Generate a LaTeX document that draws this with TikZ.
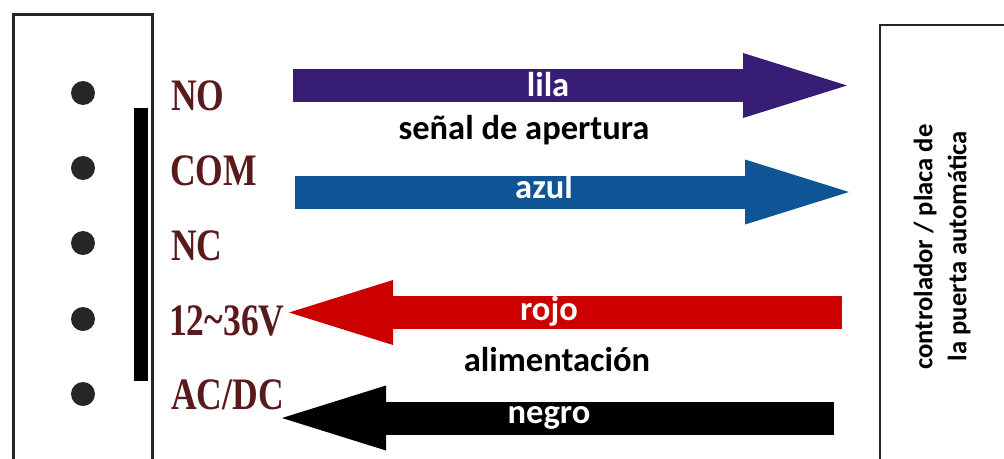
\documentclass[tikz,border=0pt]{standalone}
\usepackage{fontspec}
\setmainfont{Carlito}
\newfontfamily\termfont{Liberation Serif}
\usetikzlibrary{arrows.meta}
\definecolor{lila}{HTML}{371D75}
\definecolor{azul}{HTML}{0F5595}
\definecolor{rojo}{HTML}{CC0000}
\definecolor{term}{HTML}{5A1A1C}
\definecolor{boxline}{HTML}{262626}
\newcommand\termtext[1]{\scalebox{0.79}[1]{#1}}
\tikzset{
  x=1pt,y=-1pt,
  wire/.style={line width=33pt,-{Triangle[length=104pt,width=65pt,line width=0pt,sep=0pt]}},
  pin/.style={circle,fill=boxline,inner sep=0pt,minimum size=24pt},
  term/.style={font=\termfont\bfseries\fontsize{45}{45}\selectfont,text=term,anchor=base west,inner sep=0pt},
  wirelabel/.style={font=\bfseries\fontsize{34.5}{34.5}\selectfont,text=white,inner sep=0pt,anchor=base},
  note/.style={font=\bfseries\fontsize{34.5}{34.5}\selectfont,text=black,inner sep=0pt,anchor=base},
  side/.style={font=\bfseries\fontsize{26.6}{26.6}\selectfont,text=black,inner sep=0pt,rotate=90}
}
\begin{document}
\begin{tikzpicture}
\useasboundingbox (0,0) rectangle (1004,458);
\clip (0,0) rectangle (1004,458);
% left device
\draw[boxline,line width=3pt] (13.5,470) -- (13.5,14.5) -- (152.5,14.5) -- (152.5,470);
\node[pin] (p1) at (83,93) {};
\node[pin] (p2) at (83,168) {};
\node[pin] (p3) at (83,243) {};
\node[pin] (p4) at (83,319) {};
\node[pin] (p5) at (83,394) {};
\fill[black] (134,108) rectangle (148,381);
\node[term] (t1) at (171,110) {\termtext{NO}};
\node[term] (t2) at (170,185) {\termtext{COM}};
\node[term] (t3) at (171,260) {\termtext{NC}};
\node[term] (t4) at (169,335) {\termtext{12\raisebox{1pt}{\char`\~}36V}};
\node[term] (t5) at (171,409) {\termtext{AC/DC}};
% right device
\draw[boxline,line width=2pt] (880,470) -- (880,25) -- (1010,25);
\node[side] (c1) at (925,247) {controlador / placa de};
\node[side] (c2) at (959,246) {la puerta automática};
% wires
\coordinate (a1) at (293,85.5);
\coordinate (b1) at (847,85.5);
\coordinate (a2) at (295,192);
\coordinate (b2) at (849,192);
\coordinate (a3) at (842,312.5);
\coordinate (b3) at (289,312.5);
\coordinate (a4) at (834,418);
\coordinate (b4) at (282,418);
\draw[wire,lila] (a1) -- (b1);
\draw[wire,azul] (a2) -- (b2);
\draw[wire,rojo] (a3) -- (b3);
\draw[wire,black] (a4) -- (b4);
\node[wirelabel] (l1) at (548,96) {lila};
\node[wirelabel] (l2) at (544,198) {azul};
\node[wirelabel] (l3) at (549,320) {rojo};
\node[wirelabel] (l4) at (549,423) {negro};
\node[note] (n1) at (524,139) {señal de apertura};
\node[note] (n2) at (557,371) {alimentación};
\end{tikzpicture}
\end{document}
